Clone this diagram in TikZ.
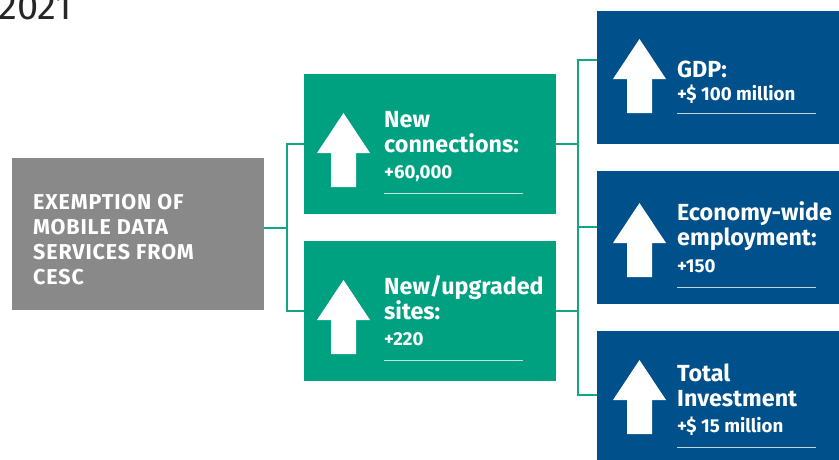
\documentclass[tikz,border=0pt]{standalone}
\usepackage{fontspec}
\setmainfont{Fira Sans}
\usetikzlibrary{positioning}
\definecolor{cescgray}{RGB}{137,137,137}
\definecolor{boxgreen}{RGB}{0,161,128}
\definecolor{boxblue}{RGB}{0,81,139}
\definecolor{linkgreen}{RGB}{18,166,133}
\tikzset{
  box/.style={rectangle,anchor=north west,inner sep=0pt},
  greenbox/.style={box,fill=boxgreen,minimum width=252pt,minimum height=140pt},
  bluebox/.style={box,fill=boxblue,minimum width=260pt,minimum height=133pt},
  head/.style={anchor=south west,inner sep=0pt,align=left,text=white,text depth=0pt,
    font=\fontsize{23.3}{25}\selectfont\bfseries},
  amount/.style={anchor=base west,inner sep=0pt,text=white,
    font=\fontsize{18.7}{20}\selectfont\bfseries},
  link/.style={draw=linkgreen,line width=1.8pt},
  rule/.style={draw=white,draw opacity=.75,line width=1pt},
  rise/.pic={\fill[white] (0,0) -- (26.5,40) -- (12.5,40) -- (12.5,74)
    -- (-12.5,74) -- (-12.5,40) -- (-26.5,40) -- cycle;}
}

\begin{document}
\begin{tikzpicture}[x=1pt,y=-1pt]
\useasboundingbox (0,0) rectangle (839,459);
\clip (0,0) rectangle (839,459);

\node[anchor=base west,inner sep=0pt,text=black!85,font=\fontsize{38}{40}\selectfont]
  (year) at (-2,19) {2021};

% policy box
\node[box,fill=cescgray,minimum width=252pt,minimum height=152pt] (cesc) at (12,158) {};
\node[head,font=\fontsize{21.5}{25}\selectfont\bfseries\addfontfeatures{LetterSpace=4}]
  (cesctext) at (33,285) {EXEMPTION OF\\MOBILE DATA\\SERVICES FROM\\CESC};

% first effects
\node[greenbox] (conn) at (304,74) {};
\node[greenbox] (sites) at (304,241) {};
\pic at (343.5,113) {rise};
\pic at (343.5,280) {rise};
\node[head] (connhead) at (384,153) {New\\connections:};
\node[amount] (connval) at (384,178) {+60,000};
\node[head] (siteshead) at (384,320) {New/upgraded\\sites:};
\node[amount] (sitesval) at (384,345) {+220};
\draw[rule] ([yshift=-15pt]connval.base west) -- ++(139,0);
\draw[rule] ([yshift=-15pt]sitesval.base west) -- ++(139,0);

% wider effects
\node[bluebox] (gdp) at (597,11) {};
\node[bluebox] (jobs) at (597,171) {};
\node[bluebox] (invest) at (597,331) {};
\pic at (639.5,39) {rise};
\pic at (639.5,203) {rise};
\pic at (639.5,360) {rise};
\node[head] (gdphead) at (677,78) {GDP:};
\node[amount] (gdpval) at (677,100) {+\$ 100 million};
\node[head] (jobshead) at (677,246) {Economy-wide\\employment:};
\node[amount] (jobsval) at (677,272) {+150};
\node[head] (investhead) at (677,407) {Total\\Investment};
\node[amount] (investval) at (677,432) {+\$ 15 million};
\draw[rule] ([yshift=-13pt]gdpval.base west) -- ++(139,0);
\draw[rule] ([yshift=-15pt]jobsval.base west) -- ++(139,0);
\draw[rule] ([yshift=-15pt]investval.base west) -- ++(139,0);

% connectors
\coordinate (split) at (287,228);
\coordinate (fork) at (578,227);
\coordinate (gdpin) at (597,60);
\coordinate (investin) at (597,395);
\draw[link] (cesc.east |- split) -- (split);
\draw[link] (conn.west) -| (split) |- (sites.west);
\draw[link] (conn.east) -- (conn.east -| fork);
\draw[link] (sites.east) -- (sites.east -| fork);
\draw[link] (gdpin) -| (fork) |- (investin);
\draw[link] (fork) -- (jobs.west |- fork);
\end{tikzpicture}
\end{document}
